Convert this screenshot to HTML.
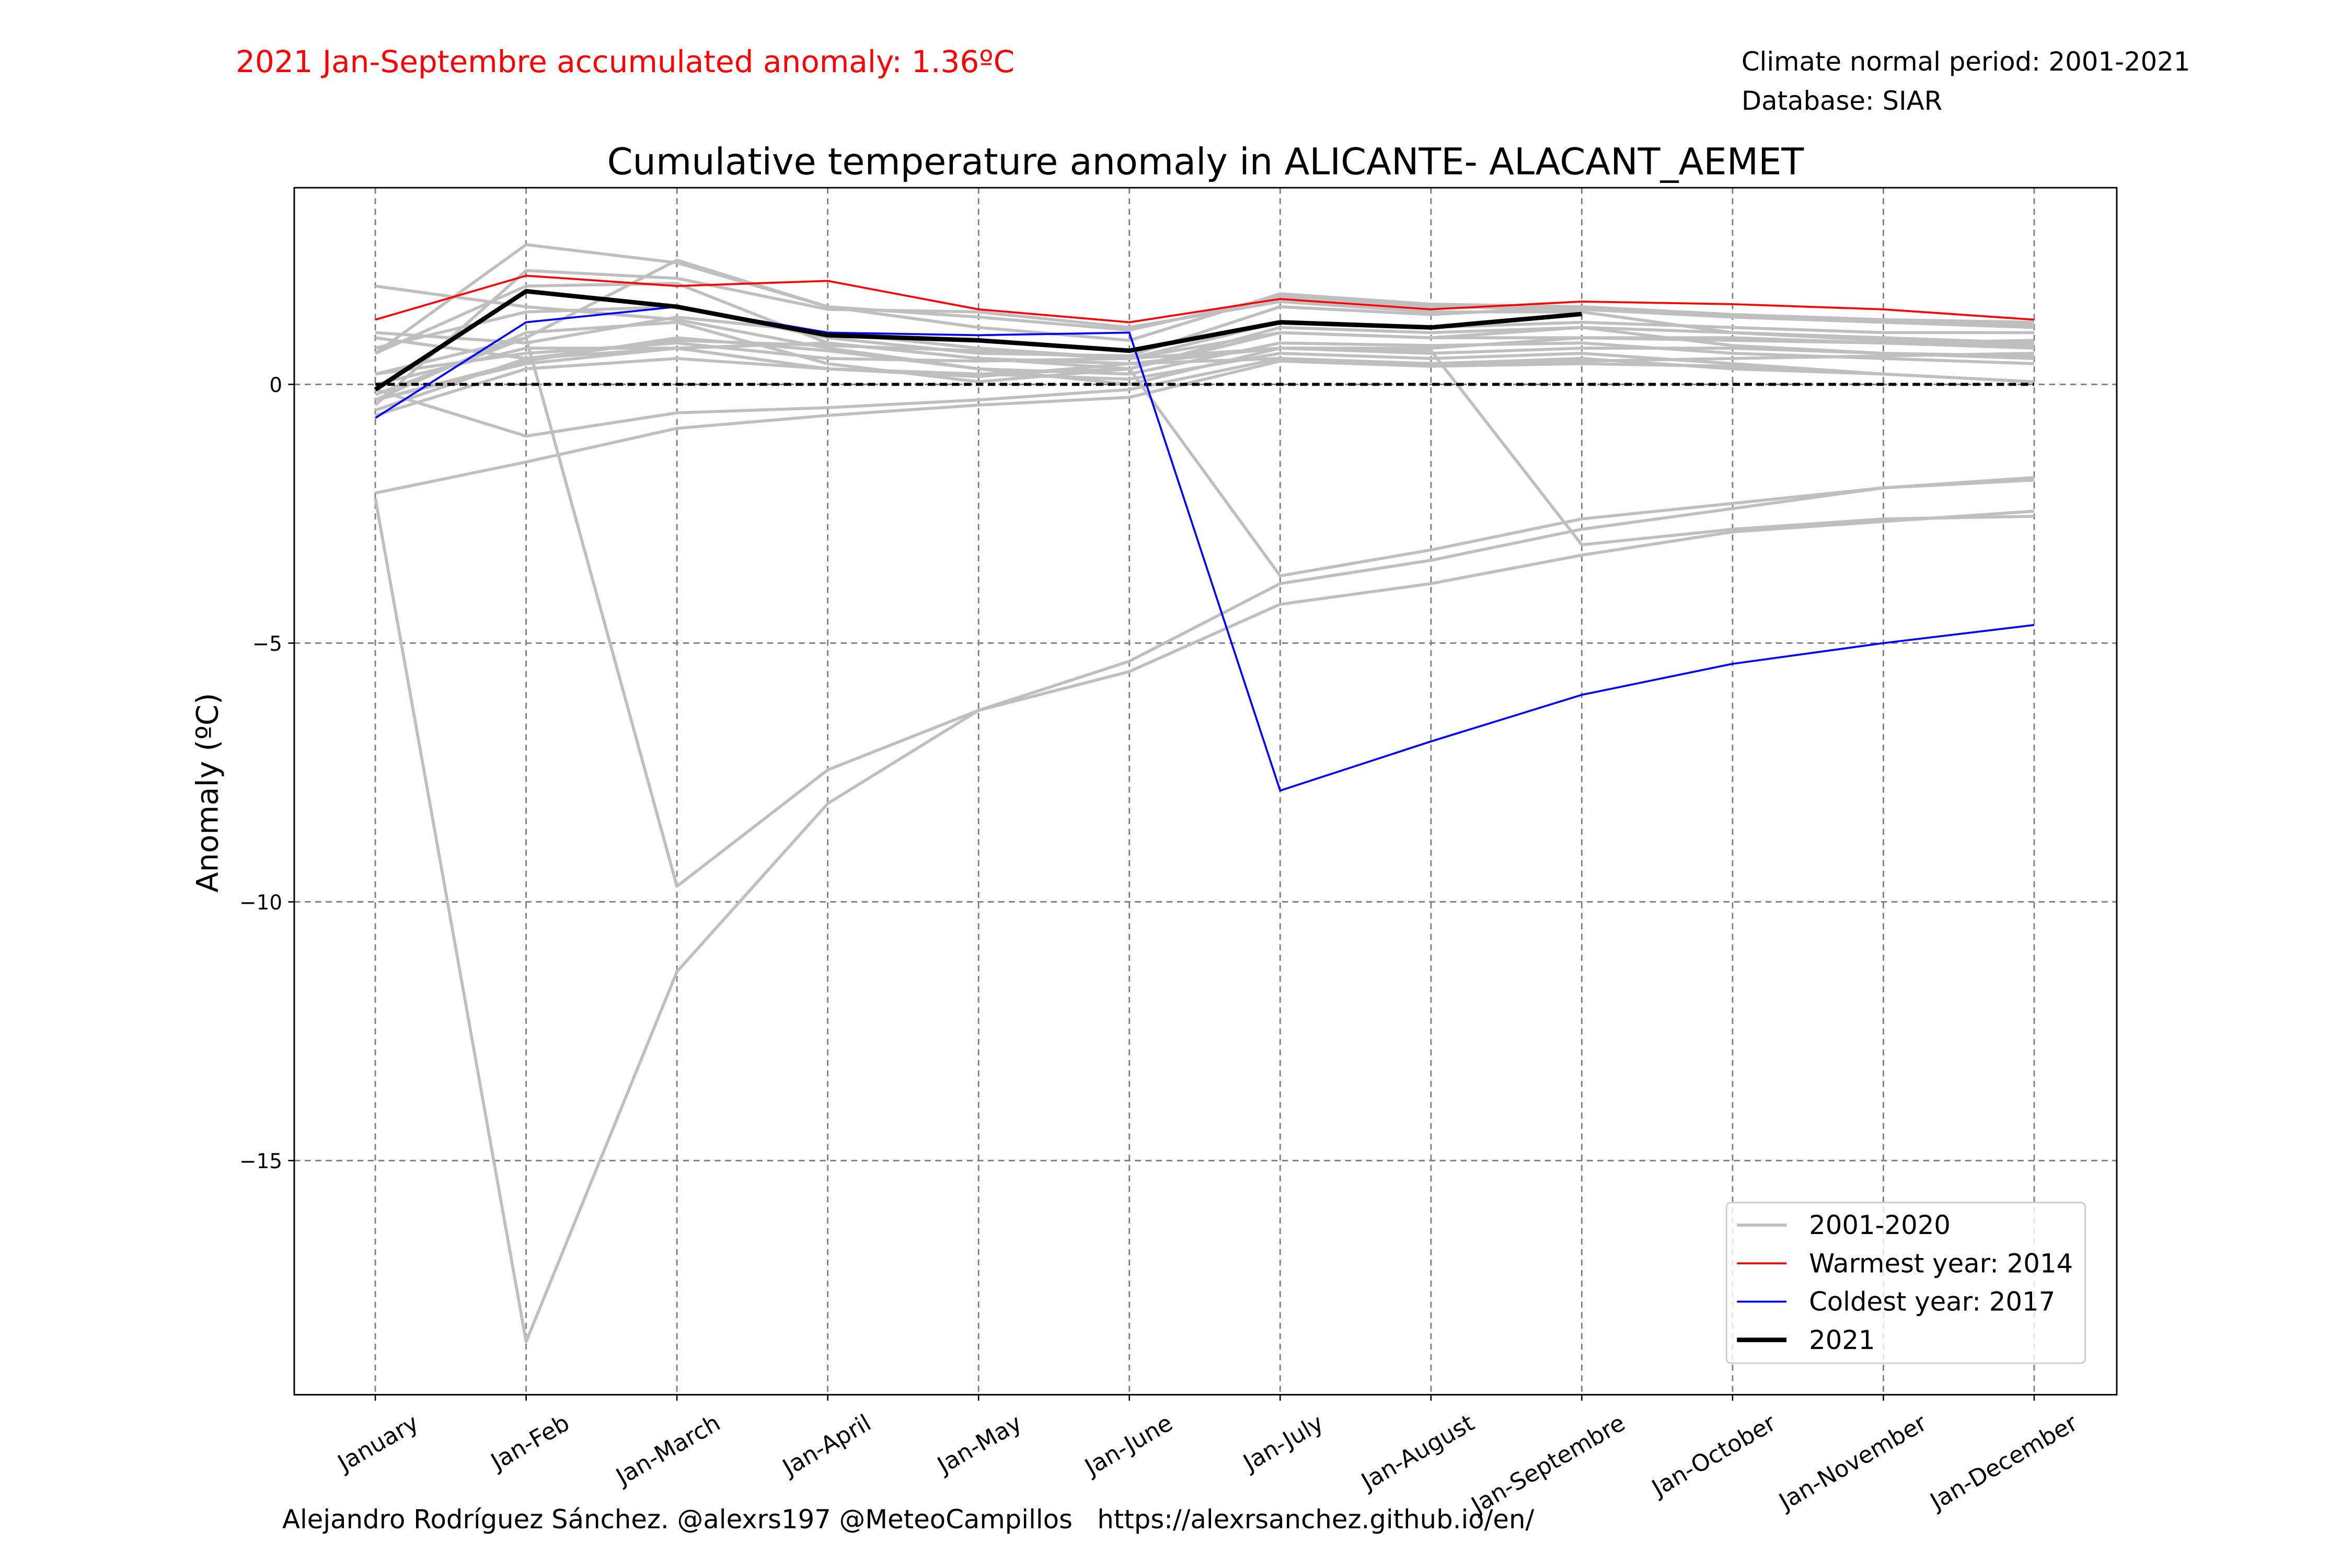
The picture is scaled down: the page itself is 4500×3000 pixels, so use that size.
<!DOCTYPE html>
<html><head><meta charset="utf-8"><style>
html,body{margin:0;padding:0;background:#fff;}
svg{display:block;font-family:"DejaVu Sans","Liberation Sans",sans-serif;}
</style></head><body>
<svg id="chart" width="4500" height="3000" viewBox="0 0 1566.7 1044.4">
<rect x="0" y="0" width="1566.7" height="1044.4" fill="#fff"/>
<text x="157" y="48" font-size="20.2" fill="#ff0000">2021 Jan-Septembre accumulated anomaly: 1.36ºC</text>
<text x="1160" y="47" font-size="17.3" fill="#000">Climate normal period: 2001-2021</text>
<text x="1160" y="73" font-size="17.3" fill="#000">Database: SIAR</text>
<text x="803" y="116" font-size="24.4" text-anchor="middle" fill="#000">Cumulative temperature anomaly in ALICANTE- ALACANT_AEMET</text>
<text transform="translate(145,528) rotate(-90)" font-size="20" text-anchor="middle" fill="#000">Anomaly (ºC)</text>
<text x="188" y="1018" font-size="17.3" fill="#000" style="white-space:pre" xml:space="preserve">Alejandro Rodríguez Sánchez. @alexrs197 @MeteoCampillos   https://alexrsanchez.github.io/en/</text>
<g id="grid"></g>
<g id="series"></g>
<g id="axes"></g>
<g id="legend"></g>
</svg>
<script>
const categories = ["January","Jan-Feb","Jan-March","Jan-April","Jan-May","Jan-June","Jan-July","Jan-August","Jan-Septembre","Jan-October","Jan-November","Jan-December"];
const yTicks = [0,-5,-10,-15];
const yTickLabels = ["0","\u22125","\u221210","\u221215"];
const gray01 = [0.6,2.7,2.35,1.5,1.1,0.85,1.75,1.55,1.5,1.3,1.2,1.1];
const gray02 = [1.9,1.5,1.25,0.7,0.3,0.0,0.7,0.7,0.9,0.9,0.8,0.7];
const gray03 = [-0.4,2.2,2.05,1.45,1.4,1.1,1.6,1.4,1.4,1.0,0.9,0.8];
const gray04 = [0.2,0.9,2.4,1.5,1.3,1.05,1.7,1.5,1.45,1.3,1.25,1.2];
const gray05 = [0.9,0.5,0.7,0.3,0.2,0.1,0.6,0.5,0.6,0.4,0.2,0.05];
const gray06 = [-0.3,1.0,1.2,0.4,0.05,0.3,1.0,0.9,1.1,1.0,0.85,0.75];
const gray07 = [0.6,1.9,1.95,0.8,0.5,0.3,1.1,1.0,1.1,0.75,0.6,0.5];
const gray08 = [-0.3,0.4,0.7,0.8,0.5,0.4,0.5,0.4,0.5,0.3,0.2,0.05];
const gray09 = [-0.1,-1.0,-0.55,-0.45,-0.3,-0.1,0.5,0.4,0.45,0.5,0.55,0.6];
const gray10 = [-2.1,-1.5,-0.85,-0.6,-0.4,-0.25,0.45,0.35,0.4,0.35,0.2,0.05];
const gray11 = [-0.6,0.3,0.5,0.3,0.15,0.4,0.7,0.6,0.7,0.7,0.6,0.55];
const gray12 = [-0.5,0.5,0.85,0.75,0.65,0.5,1.0,0.9,0.9,0.85,0.8,0.85];
const gray13 = [-0.3,0.45,0.9,0.65,0.3,0.2,0.8,0.75,0.8,0.6,0.5,0.4];
const gray14 = [0.2,0.6,0.8,0.5,0.45,0.5,0.7,0.65,-3.1,-2.8,-2.6,-2.55];
const gray15 = [0.0,0.7,0.7,0.3,0.2,0.3,-3.7,-3.2,-2.6,-2.3,-2.0,-1.85];
const gray16 = [-2.2,-18.5,-11.35,-8.1,-6.3,-5.55,-4.25,-3.85,-3.3,-2.85,-2.65,-2.45];
const gray17 = [-0.2,0.9,-9.7,-7.45,-6.3,-5.35,-3.85,-3.4,-2.8,-2.4,-2.0,-1.8];
const gray18 = [1.0,0.8,1.3,1.0,0.7,0.5,1.2,1.1,1.2,1.1,1.0,1.0];
const gray19 = [0.7,1.4,1.5,0.9,0.6,0.55,1.5,1.35,1.5,1.35,1.25,1.15];
const warmest2014 = [1.25,2.1,1.9,2.0,1.45,1.2,1.65,1.45,1.6,1.55,1.45,1.25];
const coldest2017 = [-0.65,1.2,1.5,1.0,0.95,1.0,-7.85,-6.9,-6.0,-5.4,-5.0,-4.65];
const year2021 = [-0.1,1.8,1.5,0.95,0.85,0.65,1.2,1.1,1.36];
const legendLabels = ["2001-2020","Warmest year: 2014","Coldest year: 2017","2021"];

const NS="http://www.w3.org/2000/svg";
const AX={l:196,r:1410,t:125,b:929};
const x0=250, dx=(1355-250)/11;
function xPos(i){return x0+i*dx;}
function yPos(v){return 256-v*34.47;}
function mk(tag,attrs,parent){const e=document.createElementNS(NS,tag);for(const k in attrs)e.setAttribute(k,attrs[k]);parent.appendChild(e);return e;}
const grid=document.getElementById('grid'),series=document.getElementById('series'),axes=document.getElementById('axes'),legend=document.getElementById('legend');

categories.forEach((c,i)=>{
  const l=mk('line',{x1:xPos(i),x2:xPos(i),y1:AX.t,y2:AX.b,stroke:'#808080','stroke-width':1,'stroke-dasharray':'4,3'},grid);
  
  
  const t=mk('line',{x1:xPos(i),x2:xPos(i),y1:AX.b,y2:AX.b+4,stroke:'#000','stroke-width':0.9},axes);
  
  
  const lab=mk('text',{transform:`translate(${xPos(i)+30},${AX.b+22}) rotate(-30)`,'font-size':15.5,'text-anchor':'end',fill:'#000'},axes);
  lab.textContent=c;
  
  
});
yTicks.forEach((v,i)=>{
  const l=mk('line',{x1:AX.l,x2:AX.r,y1:yPos(v),y2:yPos(v),stroke:'#808080','stroke-width':1,'stroke-dasharray':'4,3'},grid);
  
  
  const t=mk('line',{x1:AX.l-4,x2:AX.l,y1:yPos(v),y2:yPos(v),stroke:'#000','stroke-width':0.9},axes);
  
  
  const lab=mk('text',{x:AX.l-8,y:yPos(v)+5,'font-size':13.5,'text-anchor':'end',fill:'#000'},axes);
  lab.textContent=yTickLabels[i];
  
  
});
function pts(arr){return arr.map((v,i)=>xPos(i)+','+yPos(v)).join(' ');}
const grays=[gray01,gray02,gray03,gray04,gray05,gray06,gray07,gray08,gray09,gray10,gray11,gray12,gray13,gray14,gray15,gray16,gray17,gray18,gray19];
grays.forEach(g=>{
  const p=mk('polyline',{points:pts(g),fill:'none',stroke:'#bfbfbf','stroke-width':2,'stroke-linejoin':'round'},series);
  
  
});
const zero=mk('line',{x1:xPos(0),x2:xPos(11),y1:yPos(0),y2:yPos(0),stroke:'#000','stroke-width':2,'stroke-dasharray':'5,3'},series);


const pr=mk('polyline',{points:pts(warmest2014),fill:'none',stroke:'#ff0000','stroke-width':1.3},series);


const pb=mk('polyline',{points:pts(coldest2017),fill:'none',stroke:'#0000ff','stroke-width':1.3},series);


const pk=mk('polyline',{points:pts(year2021),fill:'none',stroke:'#000','stroke-width':3,'stroke-linejoin':'round'},series);


const frame=mk('rect',{x:AX.l,y:AX.t,width:AX.r-AX.l,height:AX.b-AX.t,fill:'none',stroke:'#000','stroke-width':1},axes);



const lb=mk('rect',{x:1150,y:801,width:239,height:107,rx:3,fill:'#fff','fill-opacity':0.8,stroke:'#cccccc','stroke-width':1},legend);


const lcol=['#bfbfbf','#ff0000','#0000ff','#000'];
const lw=[2,1.3,1.3,3];
legendLabels.forEach((t,i)=>{
  const y=816+i*25.5;
  const l=mk('line',{x1:1157,x2:1190,y1:y,y2:y,stroke:lcol[i],'stroke-width':lw[i]},legend);
  
  
  const tx=mk('text',{x:1205,y:y+6,'font-size':17.3,fill:'#000'},legend);
  tx.textContent=t;
  
  
});
</script>
</body></html>
